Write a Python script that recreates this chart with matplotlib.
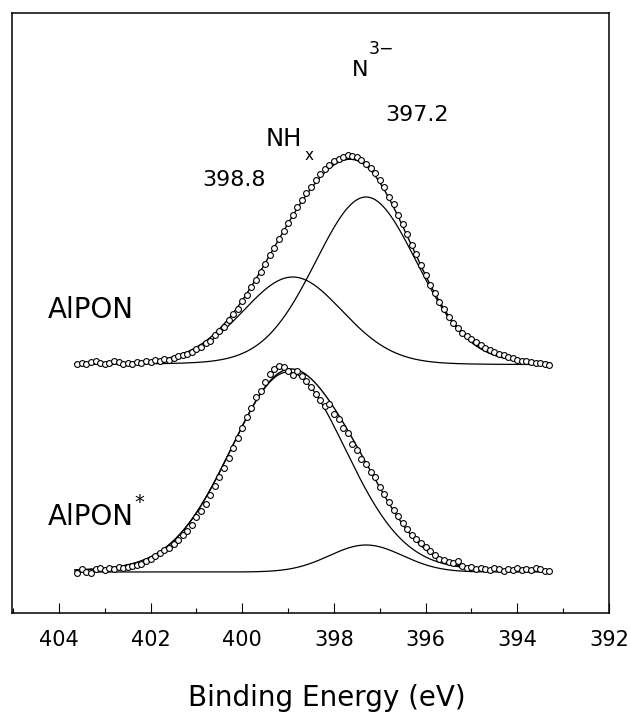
import numpy as np
import matplotlib
matplotlib.use("Agg")
import matplotlib.pyplot as plt
from matplotlib.ticker import MultipleLocator

plt.rcParams['font.family'] = ['DejaVu Sans']

# ---------------- data ----------------
# binding energy grid of the measured points (eV), 403.6 -> 393.3 in 0.1 eV steps
energy_start = 403.6
energy_step = -0.1
n_points = 104
energy = energy_start + energy_step * np.arange(n_points)

# measured intensity above each spectrum's baseline (arbitrary units)
alpon_counts = [
    1, 2, 1, 3, 4, 2, 1, 2, 4, 3,
    1, 2, 1, 3, 2, 4, 3, 5, 4, 6,
    5, 7, 9, 10, 11, 13, 16, 18, 22, 24,
    30, 34, 38, 45, 51, 56, 64, 70, 78, 85,
    93, 101, 110, 117, 126, 134, 142, 150, 158, 165,
    172, 178, 185, 191, 196, 200, 204, 206, 208, 210,
    209, 208, 205, 201, 197, 192, 185, 178, 168, 161,
    150, 141, 131, 120, 111, 100, 90, 80, 72, 63,
    56, 48, 42, 37, 32, 29, 26, 23, 20, 17,
    15, 13, 11, 10, 8, 7, 5, 4, 4, 3,
    2, 2, 1, 0,
]
alpon_star_counts = [
    -1, 3, 0, -1, 3, 4, 2, 4, 3, 5,
    4, 5, 6, 7, 8, 11, 13, 16, 19, 22,
    24, 28, 32, 37, 41, 47, 55, 61, 68, 77,
    86, 95, 104, 114, 124, 134, 144, 155, 164, 175,
    181, 190, 198, 203, 206, 205, 201, 197, 201, 196,
    191, 185, 178, 172, 166, 168, 158, 153, 144, 139,
    128, 122, 113, 108, 100, 95, 85, 78, 70, 62,
    56, 49, 43, 37, 33, 29, 25, 21, 17, 13,
    12, 10, 9, 11, 6, 4, 5, 3, 4, 3,
    2, 4, 3, 1, 3, 2, 4, 2, 3, 2,
    4, 3, 1, 1,
]

# vertical offsets (baselines) of the two spectra
baselines = {"AlPON": 248, "AlPON*": 41}

# fitted components: (center eV, height, sigma eV, lorentz fraction)
alpon_peaks = [(398.9, 88, 1.10, 0.1),    # NHx
               (397.3, 168, 1.12, 0.1)]   # N3-
alpon_star_peaks = [(399.0, 200, 1.27, 0.1),  # NHx
                    (397.3, 27, 0.80, 0.0)]   # N3-

# ---------------- helpers ----------------
def pseudo_voigt(x, center, height, sigma, eta):
    g = np.exp(-(x - center) ** 2 / (2 * sigma ** 2))
    hwhm = sigma * np.sqrt(2 * np.log(2))
    l = 1.0 / (1.0 + ((x - center) / hwhm) ** 2)
    return height * ((1 - eta) * g + eta * l)

fig = plt.figure(figsize=(6.31, 7.14), dpi=100)
ax = fig.add_axes([11.7 / 631, 1 - 613 / 714, (609 - 11.7) / 631, (613 - 12.7) / 714])

xfit = np.linspace(energy[0] + 0.05, energy[-1] - 0.02, 600)

for counts, peaks, key in [(alpon_counts, alpon_peaks, "AlPON"),
                           (alpon_star_counts, alpon_star_peaks, "AlPON*")]:
    base = baselines[key]
    comps = [pseudo_voigt(xfit, *p) for p in peaks]
    total = np.sum(comps, axis=0)
    for c in comps:
        ax.plot(xfit, base + c, color='black', lw=0.9)
    ax.plot(xfit, base + total, color='black', lw=1.0)
    ax.plot(energy, base + np.asarray(counts), linestyle='none', marker='o',
            ms=4.2, mfc='white', mec='black', mew=0.8)

ax.set_xlim(405.03, 392)
ax.set_ylim(0, 600.3)

ax.xaxis.set_major_locator(MultipleLocator(2))
ax.xaxis.set_minor_locator(MultipleLocator(1))
ax.tick_params(axis='x', which='major', direction='in', length=7.2, width=0.8,
               labelsize=15, pad=12, top=False)
ax.tick_params(axis='x', which='minor', direction='in', length=3.6, width=0.8, top=False)
ax.set_yticks([])
for s in ax.spines.values():
    s.set_linewidth(1.1)

ax.set_xlabel("Binding Energy (eV)", fontsize=20)
ax.xaxis.set_label_coords(0.527, -0.118)
ax.xaxis.label.set_va('top')

# ---------------- annotations ----------------
def px2data(px, py):
    return 405.03 - (px - 11.7) / 46.0, 613 - py

def put(text, px, py, size, ha='left', va='center'):
    x, y = px2data(px, py)
    ax.text(x, y, text, fontsize=size, ha=ha, va=va)

put("AlPON", 48, 310, 20)
put("AlPON", 48, 517, 20)
put("*", 135, 503, 14)
put("398.8", 203, 180, 16)
put("NH", 267, 139, 17.5)
put("x", 306, 155, 11)
put("N", 353, 70, 16)
put("3\u2212", 370, 49, 12.5)
put("397.2", 387, 115, 16)

fig.savefig("out.png", dpi=100)
